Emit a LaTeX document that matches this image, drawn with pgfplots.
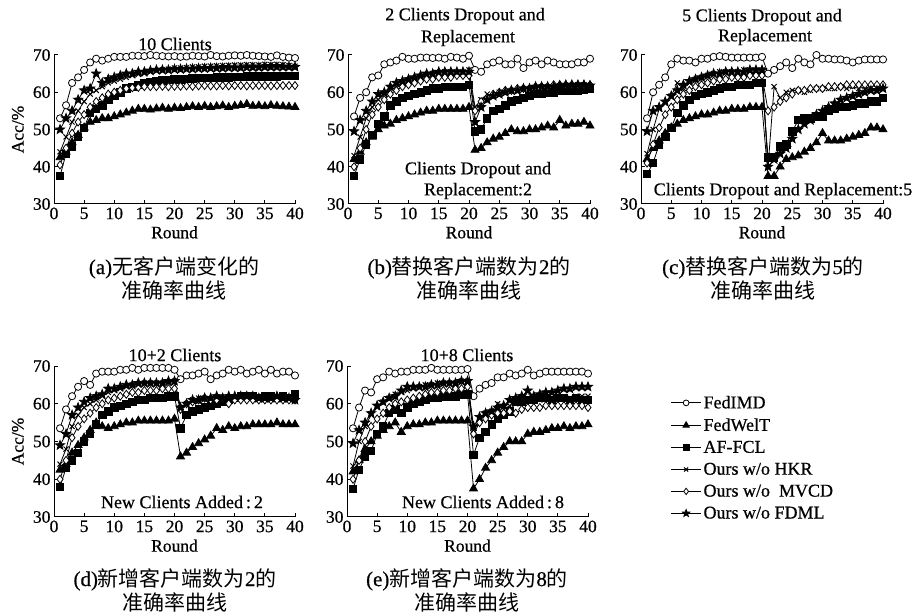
\documentclass[border=0pt]{standalone}
\usepackage{pgfplots}
\pgfplotsset{compat=1.18}
\usepackage{pgfplotstable}
\usepackage{fontspec}
\setmainfont{Liberation Serif}[FakeBold=0.6]
\newfontfamily\cjk{Noto Sans CJK SC}

\pgfdeclareplotmark{fstar}{%
  \pgfpathmoveto{\pgfpointpolar{90}{\pgfplotmarksize}}%
  \pgfpathlineto{\pgfpointpolar{126}{0.42\pgfplotmarksize}}%
  \pgfpathlineto{\pgfpointpolar{162}{\pgfplotmarksize}}%
  \pgfpathlineto{\pgfpointpolar{198}{0.42\pgfplotmarksize}}%
  \pgfpathlineto{\pgfpointpolar{234}{\pgfplotmarksize}}%
  \pgfpathlineto{\pgfpointpolar{270}{0.42\pgfplotmarksize}}%
  \pgfpathlineto{\pgfpointpolar{306}{\pgfplotmarksize}}%
  \pgfpathlineto{\pgfpointpolar{342}{0.42\pgfplotmarksize}}%
  \pgfpathlineto{\pgfpointpolar{18}{\pgfplotmarksize}}%
  \pgfpathlineto{\pgfpointpolar{54}{0.42\pgfplotmarksize}}%
  \pgfpathclose
  \pgfusepathqfillstroke
}

\pgfplotstableread{
x imd welt af hkr mvcd fdml
1 53.0 42.5 37.5 44.0 40.5 50.0
2 56.5 44.0 43.5 48.0 45.0 53.0
3 62.5 46.5 45.5 52.0 49.0 55.0
4 64.0 48.5 48.0 55.0 52.0 58.0
5 66.0 50.5 50.5 57.5 54.0 60.5
6 68.0 52.0 54.5 59.5 56.0 61.0
7 69.0 52.5 55.5 60.5 57.5 65.0
8 68.5 53.0 56.5 61.5 58.5 62.5
9 69.0 53.0 58.0 62.5 59.5 63.5
10 69.5 53.5 59.0 63.0 60.0 64.0
11 69.5 54.0 60.0 63.5 60.5 64.5
12 69.5 54.5 61.0 64.0 61.0 65.0
13 69.8 55.0 61.5 64.5 61.2 65.0
14 69.8 55.5 62.0 64.8 61.3 65.5
15 69.7 55.5 62.5 65.0 61.5 65.5
16 70.0 55.3 62.8 65.5 61.5 65.8
17 69.8 55.6 63.0 65.8 61.5 66.0
18 69.7 55.8 63.2 66.0 61.6 66.0
19 69.6 55.5 63.3 66.2 61.5 66.0
20 69.7 55.8 63.5 66.5 61.6 66.2
21 69.5 55.7 63.5 66.5 61.6 66.2
22 69.6 56.0 63.6 66.6 61.7 66.3
23 69.8 56.2 63.7 66.8 61.6 66.3
24 69.7 56.0 63.8 66.8 61.7 66.4
25 69.6 56.3 63.8 67.0 61.8 66.4
26 70.0 56.0 63.9 67.0 61.7 66.5
27 69.7 56.2 64.0 67.1 61.7 66.5
28 69.6 56.4 64.0 67.2 61.8 66.5
29 69.8 56.0 64.0 67.2 61.7 66.6
30 69.9 56.3 64.1 67.3 61.8 66.6
31 69.8 56.5 64.1 67.3 61.8 66.6
32 70.0 56.8 64.2 67.4 61.7 66.7
33 69.8 56.3 64.2 67.4 61.8 66.7
34 69.7 56.4 64.2 67.3 61.8 66.7
35 69.6 56.2 64.3 67.5 61.8 66.8
36 69.5 56.5 64.3 67.4 61.7 66.8
37 69.9 56.3 64.3 67.5 61.8 66.8
38 69.5 56.2 64.4 67.4 61.8 66.8
39 69.3 56.1 64.4 67.2 61.8 66.8
40 69.2 56.0 64.4 67.0 61.8 66.8
}\tA

\pgfplotstableread{
x imd welt af hkr mvcd fdml
1 53.5 42.0 37.5 43.0 40.0 49.5
2 58.5 44.0 42.0 48.0 45.0 52.5
3 60.0 46.5 46.0 53.0 50.0 55.0
4 64.0 48.0 48.5 56.0 54.0 57.5
5 64.5 50.0 51.5 58.0 56.0 59.5
6 67.5 51.0 53.5 59.5 58.0 60.0
7 68.0 51.5 56.5 60.5 59.5 61.5
8 68.5 52.5 57.5 61.5 60.5 62.5
9 69.5 53.0 58.5 62.5 61.5 63.0
10 69.0 53.5 59.0 63.0 62.0 63.5
11 69.0 54.0 59.5 63.5 62.5 64.0
12 69.3 54.5 60.0 64.0 63.0 64.5
13 69.3 55.0 60.5 64.5 63.5 65.0
14 69.2 55.0 61.0 65.0 63.5 65.0
15 69.3 55.5 61.0 65.0 64.0 65.5
16 69.0 55.5 61.5 65.5 64.0 65.5
17 69.5 55.5 61.5 65.5 64.0 65.5
18 69.3 55.5 61.5 65.5 64.5 65.5
19 69.0 55.5 61.5 65.5 64.5 65.5
20 69.8 56.0 62.0 66.0 64.5 65.5
21 66.0 44.5 49.5 56.0 55.0 52.0
22 65.5 45.0 50.0 58.0 57.5 56.0
23 67.5 46.5 53.0 59.5 58.5 58.0
24 68.0 47.5 55.0 59.0 59.5 59.0
25 68.5 48.0 55.5 60.0 60.0 59.5
26 67.5 49.0 56.5 60.0 60.5 60.0
27 67.5 50.0 57.5 60.5 60.5 60.5
28 69.0 49.5 58.0 60.5 61.0 60.5
29 66.5 49.5 58.5 61.0 61.0 61.0
30 68.0 50.0 59.0 61.0 61.0 61.0
31 68.5 50.0 59.5 61.0 61.5 61.5
32 67.5 50.5 59.5 61.5 61.5 61.5
33 68.5 51.0 60.0 61.5 61.5 61.5
34 68.0 50.5 60.0 61.5 62.0 61.5
35 67.5 52.5 60.5 61.5 62.0 61.8
36 67.5 51.0 60.5 61.8 62.0 62.0
37 67.5 51.5 60.5 61.8 62.0 62.0
38 68.0 51.5 60.5 62.0 62.0 62.0
39 68.0 52.0 60.8 62.0 62.0 62.0
40 69.0 51.0 61.0 61.5 62.0 61.8
}\tB

\pgfplotstableread{
x imd welt af hkr mvcd fdml
1 53.0 42.0 38.0 43.5 41.0 49.5
2 60.0 45.0 41.0 50.0 46.0 55.0
3 62.0 47.0 46.0 55.5 50.5 56.0
4 64.0 49.0 48.0 57.0 54.0 57.5
5 67.5 50.5 50.5 59.0 56.0 59.0
6 69.0 51.5 54.5 62.5 58.0 60.5
7 68.5 52.5 56.5 61.0 59.5 62.0
8 68.5 53.0 58.0 62.5 60.5 63.0
9 68.0 53.5 59.0 63.5 61.5 63.5
10 69.0 54.0 59.5 64.0 62.0 64.0
11 69.0 54.0 60.0 64.5 62.5 64.5
12 69.5 54.5 60.5 65.0 63.0 65.0
13 69.7 55.0 61.0 65.5 63.5 65.0
14 69.5 55.0 61.5 65.5 63.5 65.5
15 69.3 55.5 61.5 65.5 64.0 65.5
16 69.3 55.5 62.0 65.5 64.0 65.5
17 69.3 55.5 62.0 66.0 64.0 65.5
18 69.3 56.0 62.0 66.0 64.5 66.0
19 69.3 56.0 62.5 66.0 64.5 66.0
20 69.5 56.0 62.5 66.0 64.5 66.0
21 65.0 37.5 42.5 40.0 55.0 40.0
22 66.0 37.5 42.5 61.5 56.0 42.0
23 67.0 40.0 45.5 58.5 57.5 43.5
24 68.0 42.0 46.0 60.0 58.5 45.0
25 66.5 42.5 49.5 60.5 59.5 47.5
26 69.0 43.0 52.5 60.5 60.5 50.0
27 68.0 44.0 53.0 60.0 60.5 51.5
28 67.5 45.0 53.0 60.5 61.0 52.5
29 70.0 46.5 53.5 61.0 61.0 54.0
30 69.0 49.0 53.5 61.0 61.0 55.0
31 69.0 47.0 55.0 61.0 61.5 56.0
32 68.8 47.0 55.5 61.0 61.5 57.0
33 68.8 47.0 56.0 61.5 61.5 58.0
34 68.5 47.5 56.0 61.0 62.0 58.5
35 68.0 48.0 56.5 61.5 62.0 59.0
36 68.5 48.5 57.0 61.0 62.0 59.5
37 68.8 49.0 57.0 61.5 62.0 60.0
38 68.8 50.5 57.5 61.0 62.0 60.5
39 68.8 50.5 57.5 61.0 62.0 60.5
40 68.8 50.0 58.5 61.0 62.0 61.0
}\tC

\pgfplotstableread{
x imd welt af hkr mvcd fdml
1 53.5 42.5 38.0 44.0 40.0 49.0
2 58.5 44.0 43.0 48.0 45.0 52.0
3 62.0 47.0 45.0 54.0 51.0 57.0
4 64.5 49.0 47.0 57.0 54.0 59.0
5 66.0 51.0 50.0 59.0 56.0 60.5
6 65.0 53.0 52.0 60.0 57.5 61.5
7 68.0 55.0 54.5 61.0 59.0 62.0
8 68.5 54.0 57.0 62.0 60.0 62.5
9 68.5 53.5 58.0 63.0 61.0 64.0
10 68.5 54.0 59.0 63.5 61.5 64.0
11 69.0 54.5 59.5 64.0 62.0 64.5
12 69.0 55.0 60.0 64.5 62.5 65.0
13 69.5 55.0 60.5 65.0 63.0 65.0
14 69.0 55.5 61.0 65.0 63.0 65.5
15 69.5 55.5 61.0 65.5 63.5 65.5
16 69.5 55.5 61.5 65.5 63.5 65.5
17 69.5 55.5 61.5 65.5 63.5 65.5
18 69.5 55.5 61.5 65.5 64.0 65.5
19 69.5 55.5 62.0 65.5 64.0 66.0
20 69.0 56.0 62.0 66.0 64.0 66.0
21 66.5 46.0 53.5 59.0 58.5 59.0
22 67.5 47.0 57.0 60.0 60.0 60.0
23 67.5 48.5 58.0 61.0 60.5 61.0
24 68.0 49.5 58.5 61.5 61.0 61.0
25 68.5 50.5 59.0 61.5 61.5 61.5
26 66.5 51.5 59.5 61.0 61.0 61.5
27 67.5 53.5 60.0 61.0 61.0 62.0
28 68.0 53.0 60.5 61.0 61.5 61.5
29 69.0 54.0 61.0 61.5 60.0 62.0
30 68.5 53.5 61.5 61.5 61.0 62.0
31 69.0 54.0 62.0 62.0 61.0 62.0
32 68.0 54.0 62.0 62.0 61.0 62.0
33 68.5 54.5 62.0 61.5 61.0 62.0
34 69.0 54.5 61.5 61.5 61.0 61.5
35 68.0 54.5 62.0 61.5 61.0 61.5
36 69.0 54.5 62.0 61.5 61.0 61.5
37 68.0 55.0 61.5 62.0 61.0 62.0
38 68.5 54.5 62.0 61.5 61.0 61.5
39 68.5 54.5 61.5 61.5 61.0 61.5
40 67.5 54.5 62.5 61.0 61.0 61.0
}\tD

\pgfplotstableread{
x imd welt af hkr mvcd fdml
1 53.5 42.0 37.5 43.5 40.0 49.5
2 59.0 45.0 42.5 50.0 45.0 53.0
3 63.5 48.0 46.0 54.0 50.0 55.0
4 63.0 50.0 47.5 57.0 54.0 57.5
5 66.5 51.5 52.0 59.0 56.0 59.5
6 67.0 53.0 54.0 60.5 57.5 60.5
7 68.5 54.0 57.5 61.5 59.0 61.5
8 68.0 55.0 58.5 62.5 60.0 62.0
9 68.5 52.5 57.5 63.0 60.5 63.5
10 68.5 54.0 59.0 63.5 61.0 64.5
11 69.0 54.5 60.0 64.0 61.5 64.5
12 69.0 54.5 60.5 64.5 62.0 64.5
13 69.0 55.0 61.0 65.0 62.5 64.5
14 69.5 55.0 61.5 65.0 63.0 65.0
15 69.0 55.5 61.5 65.5 63.0 65.0
16 69.0 55.5 62.0 65.5 63.5 65.5
17 69.0 55.5 62.0 65.5 63.5 65.5
18 69.0 55.5 62.0 65.5 64.0 65.5
19 69.0 55.5 62.5 66.0 64.0 66.0
20 69.2 55.5 62.5 66.0 64.5 66.0
21 62.0 37.5 46.5 53.0 52.0 54.0
22 64.0 40.0 51.0 56.0 55.0 56.5
23 65.0 43.0 52.5 57.5 56.0 57.5
24 65.5 45.0 54.5 58.0 57.0 58.0
25 67.0 47.0 56.0 60.0 57.5 59.0
26 67.0 48.5 57.0 58.5 57.5 59.5
27 68.0 50.0 58.0 59.5 58.0 61.0
28 67.5 50.0 60.5 60.0 57.5 61.5
29 68.0 50.0 60.5 60.5 58.5 62.0
30 69.0 52.0 61.0 61.0 59.0 63.5
31 67.5 52.5 61.0 61.0 59.0 62.0
32 68.0 52.5 61.5 61.0 59.0 62.5
33 68.5 53.0 61.5 61.5 59.5 63.0
34 68.5 53.5 61.0 61.5 59.5 63.0
35 68.5 53.5 61.5 61.5 59.5 63.5
36 68.5 54.0 61.5 61.5 59.5 64.0
37 68.5 53.5 61.0 61.5 59.5 64.0
38 68.5 54.0 61.5 62.0 59.5 64.5
39 68.5 54.0 61.0 62.0 59.5 64.5
40 68.0 54.5 61.0 62.0 59.0 64.5
}\tE

\pgfplotsset{
  base/.style={
    scale only axis, xmin=0, xmax=40, ymin=30, ymax=70,
    xtick={0,5,...,40}, ytick={30,40,...,70},
    axis lines=left, axis line style={-, line width=1pt},
    tick align=inside, major tick length=4pt,
    tick style={line width=1pt, black},
    tick label style={font=\fontsize{17.5}{17.5}\selectfont},
    /pgf/number format/assume math mode=true,
    xlabel={Round},
    xlabel style={font=\fontsize{17.5}{17.5}\selectfont, at={(axis description cs:0.5,-0.19)}, anchor=center},
    ylabel style={font=\fontsize{17.5}{17.5}\selectfont, at={(axis description cs:-0.15,0.5)}, anchor=center},
    clip=false,
    every axis plot/.append style={line width=0.8pt, black},
    legend image code/.code={\draw[mark repeat=2,mark phase=2,#1,every mark/.append style={scale=0.8}] plot coordinates {(0pt,0pt) (15pt,0pt) (30pt,0pt)};},
  },
  sIMD/.style={mark=*, mark size=3.6pt, mark options={fill=white, line width=0.8pt}},
  sWELT/.style={mark=triangle*, mark size=4.6pt, mark options={fill=black}},
  sAF/.style={mark=square*, mark size=3.7pt, mark options={fill=black}},
  sHKR/.style={mark=x, mark size=3.6pt, mark options={line width=1pt}},
  sMVCD/.style={mark=diamond*, mark size=4pt, mark options={fill=white, line width=0.8pt}},
  sFDML/.style={mark=fstar, mark size=4.8pt, mark options={fill=black}},
}

\newcommand\sixplots[1]{%
  \addplot[sIMD] table[x=x,y=imd]{#1};
  \addplot[sWELT] table[x=x,y=welt]{#1};
  \addplot[sAF] table[x=x,y=af]{#1};
  \addplot[sHKR] table[x=x,y=hkr]{#1};
  \addplot[sMVCD] table[x=x,y=mvcd]{#1};
  \addplot[sFDML] table[x=x,y=fdml]{#1};
}

\begin{document}
\begin{tikzpicture}[x=1pt,y=1pt]
\path[use as bounding box] (0,0) rectangle (918,613);

% (a)
\begin{axis}[base, at={(54pt,409pt)}, anchor=south west, width=241pt, height=149pt, ylabel={Acc/\%}]
\sixplots{\tA}
\end{axis}
% (b)
\begin{axis}[base, at={(348pt,409pt)}, anchor=south west, width=242pt, height=149pt]
\sixplots{\tB}
\end{axis}
% (c)
\begin{axis}[base, at={(641pt,409pt)}, anchor=south west, width=242pt, height=149pt]
\sixplots{\tC}
\end{axis}
% (d)
\begin{axis}[base, at={(54pt,96pt)}, anchor=south west, width=241pt, height=151pt, ylabel={Acc/\%}]
\sixplots{\tD}
\end{axis}
% (e)
\begin{axis}[base, at={(347pt,96pt)}, anchor=south west, width=241pt, height=151pt,
  legend style={at={(axis description cs:1.33,0.83)}, anchor=north west, draw=none, fill=none,
    font=\fontsize{18}{18}\selectfont, cells={anchor=west}, row sep=4.5pt}]
\sixplots{\tE}
\legend{FedIMD, FedWelT, AF-FCL, Ours w/o HKR, Ours w/o\ \ MVCD, Ours w/o FDML}
\end{axis}

% titles
\begin{scope}[every node/.style={font=\fontsize{18}{18}\selectfont, inner sep=0pt}]
\node at (175,569) {10 Clients};
\node at (465,597) {2 Clients Dropout and};
\node at (468,575) {Replacement};
\node at (762,596) {5 Clients Dropout and};
\node at (765,576) {Replacement};
\node at (175,258) {10+2 Clients};
\node at (467,258) {10+8 Clients};
% annotations
\node at (478,443) {Clients Dropout and};
\node at (478,422) {Replacement:2};
\node at (783,422) {Clients Dropout and Replacement:5};
\node at (182,111) {New Clients Added\thinspace:\thinspace2};
\node at (483,111) {New Clients Added\thinspace:\thinspace8};
\end{scope}

% captions
\begin{scope}[every node/.style={font=\fontsize{21}{24}\selectfont, align=center, inner sep=0pt}]
\node at (174,335) {(a){\cjk 无客户端变化的}\\{\cjk 准确率曲线}};
\node at (469,335) {(b){\cjk 替换客户端数为}2{\cjk 的}\\{\cjk 准确率曲线}};
\node at (763,335) {(c){\cjk 替换客户端数为}5{\cjk 的}\\{\cjk 准确率曲线}};
\node at (175,23) {(d){\cjk 新增客户端数为}2{\cjk 的}\\{\cjk 准确率曲线}};
\node at (467,23) {(e){\cjk 新增客户端数为}8{\cjk 的}\\{\cjk 准确率曲线}};
\end{scope}
\end{tikzpicture}
\end{document}
